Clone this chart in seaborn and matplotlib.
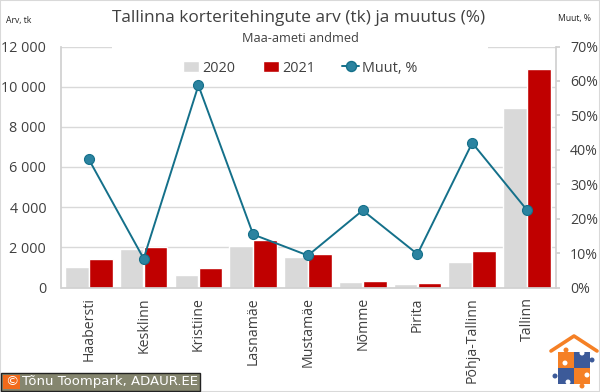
import matplotlib
matplotlib.use('Agg')
import matplotlib.pyplot as plt
import matplotlib.patches as mpatches
from matplotlib.lines import Line2D
from matplotlib.ticker import FuncFormatter
import pandas as pd
import seaborn as sns

# Values
districts = ['Haabersti', 'Kesklinn', 'Kristiine', 'Lasnamäe', 'Mustamäe',
             'Nõmme', 'Pirita', 'Põhja-Tallinn', 'Tallinn']
arv_2020 = [1040, 1900, 640, 2060, 1520, 270, 190, 1290, 8930]
arv_2021 = [1420, 2020, 970, 2360, 1660, 340, 220, 1820, 10900]
muutus = [37.2, 8.4, 58.7, 15.4, 9.3, 22.4, 9.7, 42.0, 22.5]

GRAY = '#d9d9d9'
RED = '#c00000'
TEAL = '#2b83a0'
LINE = '#14708a'
TEXT = '#404040'

sns.set_theme(style='white')
plt.rcParams['font.family'] = ['Open Sans', 'DejaVu Sans']

W, H = 600, 392
fig = plt.figure(figsize=(W / 100, H / 100), dpi=100, facecolor='white')
ax = fig.add_axes([61.5 / W, 1 - 287.5 / H, 494.5 / W, 241 / H])

df = pd.DataFrame({
    'district': districts * 2,
    'year': ['2020'] * 9 + ['2021'] * 9,
    'arv': arv_2020 + arv_2021,
})
sns.barplot(data=df, x='district', y='arv', hue='year', order=districts,
            palette={'2020': GRAY, '2021': RED}, width=0.88, gap=0.02, saturation=1,
            legend=False, ax=ax, zorder=2)
ax.set_xlim(-0.5, 8.53)
ax.set_ylim(0, 12000)
ax.set_yticks(range(0, 12001, 2000))
ax.yaxis.set_major_formatter(FuncFormatter(lambda v, _: f'{int(v):,}'.replace(',', ' ')))
ax.yaxis.grid(True, color='#d9d9d9', lw=1)
ax.set_axisbelow(True)
ax.set_xlabel('')
ax.set_ylabel('')
ax.tick_params(axis='y', labelsize=10.4, labelcolor=TEXT, length=0, pad=11)
ax.tick_params(axis='x', labelsize=10.2, labelcolor=TEXT, length=0, pad=7, rotation=90)
for s in ['top', 'right']:
    ax.spines[s].set_visible(False)
for s in ['left', 'bottom']:
    ax.spines[s].set_color('#d0d0d0')

# the title box hides the top gridline in the middle
fig.add_artist(mpatches.Rectangle((112 / W, 1 - 50 / H), 376 / W, 8 / H, transform=fig.transFigure,
                                  facecolor='white', edgecolor='none', zorder=3))

ax2 = ax.twinx()
sns.lineplot(x=districts, y=muutus, sort=False, color=LINE, lw=1.4, marker='o', ms=7.2,
             markerfacecolor=TEAL, markeredgecolor=LINE, markeredgewidth=0.8, ax=ax2, zorder=5)
ax2.set_xlim(-0.5, 8.53)
ax2.set_ylim(0, 70)
ax2.set_yticks(range(0, 71, 10))
ax2.yaxis.set_major_formatter(FuncFormatter(lambda v, _: f'{int(v)}%'))
ax2.tick_params(axis='y', labelsize=10.2, labelcolor=TEXT, length=3, color='#d0d0d0', pad=7)
ax2.grid(False)
ax2.set_ylabel('')
for s in ['top', 'left', 'bottom']:
    ax2.spines[s].set_visible(False)
ax2.spines['right'].set_color('#d0d0d0')

fig.text(299 / W, 1 - 18 / H, 'Tallinna korteritehingute arv (tk) ja muutus (%)',
         ha='center', va='center', fontsize=12.4, color=TEXT, zorder=4)
fig.text(300 / W, 1 - 39 / H, 'Maa-ameti andmed', ha='center', va='center', fontsize=9.2,
         color=TEXT, zorder=4)
fig.text(6 / W, 1 - 20 / H, 'Arv, tk', ha='left', va='center', fontsize=6.2, color='#222222')
fig.text(558 / W, 1 - 18 / H, 'Muut, %', ha='left', va='center', fontsize=6.2, color='#222222')

handles = [mpatches.Patch(facecolor=GRAY, label='2020'),
           mpatches.Patch(facecolor=RED, label='2021'),
           Line2D([], [], color=LINE, lw=1.4, marker='o', ms=7.2, markerfacecolor=TEAL, label='Muut, %')]
leg = fig.legend(handles=handles, loc='center', bbox_to_anchor=(300 / W, 1 - 68 / H), ncol=3,
                 frameon=False, fontsize=10.4, labelcolor=TEXT, handlelength=1.15, handleheight=0.7,
                 handletextpad=0.2, columnspacing=1.9)

# copyright strip
fig.add_artist(mpatches.Rectangle((1 / W, 1 - 391 / H), 199 / W, 18 / H, transform=fig.transFigure,
                                  facecolor='#85866f', edgecolor='#222222', lw=1))
fig.add_artist(mpatches.Rectangle((3 / W, 1 - 389 / H), 17 / W, 14 / H, transform=fig.transFigure,
                                  facecolor='#f26a1b', edgecolor='none'))
fig.text(11.5 / W, 1 - 382 / H, '©', ha='center', va='center', fontsize=9.5, color='white',
         family=['DejaVu Sans'])
fig.text(22 / W, 1 - 382 / H, 'Tõnu Toompark, ADAUR.EE', ha='left', va='center',
         fontsize=9.5, color='white', family=['DejaVu Sans'])

# logo: roof and puzzle squares with knobs
ORANGE = '#f58025'
BLUE = '#3c5a99'
fig.add_artist(Line2D([551 / W, 574 / W, 597 / W], [1 - 351 / H, 1 - 336 / H, 1 - 351 / H],
                      transform=fig.transFigure, color=ORANGE, lw=2.6))
for x, y, c in [(558, 352, ORANGE), (574, 352, BLUE), (558, 368, BLUE), (574, 368, ORANGE)]:
    fig.add_artist(mpatches.Rectangle((x / W, 1 - (y + 16) / H), 16 / W, 16 / H,
                                      transform=fig.transFigure, facecolor=c, edgecolor='none'))
for x, y, c in [(566, 350, ORANGE), (592, 360, BLUE), (555, 376, BLUE), (582, 386, ORANGE),
                (565, 363, 'white'), (582, 353, 'white'), (568, 382, 'white'), (587, 375, 'white')]:
    fig.add_artist(mpatches.Ellipse((x / W, 1 - y / H), 5 / W, 5 / H, transform=fig.transFigure,
                                    facecolor=c, edgecolor='none'))

# thin frame round the picture
fig.add_artist(mpatches.Rectangle((0, 0), 1, 1, transform=fig.transFigure, fill=False,
                                  edgecolor='#d9d9d9', lw=1.5, zorder=0))

fig.savefig('out.png', dpi=100)
